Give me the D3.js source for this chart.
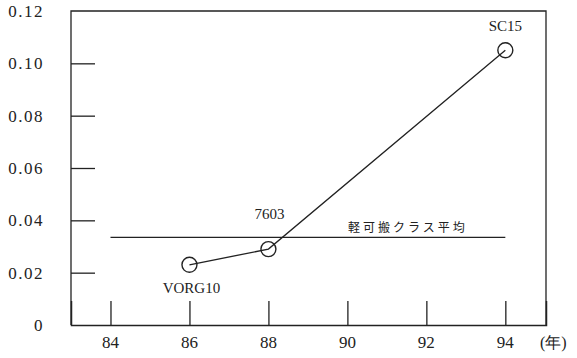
<!DOCTYPE html>
<html><head><meta charset="utf-8">
<script src="https://cdn.jsdelivr.net/npm/d3@7"></script>
<style>body{margin:0;background:#fff}</style>
</head><body>
<svg id="c" width="577" height="358"></svg>
<script>
const years = [86, 88, 94];
const values = [0.023, 0.029, 0.105];
const names = ["VORG10", "7603", "SC15"];
const avgValue = 0.0335;
const avgRange = [84, 94];
const avgLabel = "軽可搬クラス平均";
const xTicks = [84, 86, 88, 90, 92, 94];
const yTicks = [0, 0.02, 0.04, 0.06, 0.08, 0.10, 0.12];
const yTickLabels = ["0", "0.02", "0.04", "0.06", "0.08", "0.10", "0.12"];
const xUnit = "(年)";

const svg = d3.select("#c");
const L = 71, R = 546, T = 11, B = 325;
const x = d3.scaleLinear().domain([83, 95.03]).range([L, R]);
const y = d3.scaleLinear().domain([0, 0.12]).range([B, T]);
const ink = "#222";
const serif = "'Liberation Serif', 'DejaVu Serif', serif";

// frame
svg.append("path").attr("d", `M${L},${B}V${T}H${R}V${B}`)
  .attr("fill", "none").attr("stroke", ink).attr("stroke-width", 1.3);

// x axis
const xa = svg.append("g").attr("transform", `translate(0,${B})`)
  .call(d3.axisTop(x).tickValues(xTicks).tickSize(24).tickFormat(""));
xa.select(".domain").attr("stroke", ink).attr("stroke-width", 1.5);
xa.selectAll(".tick line").attr("stroke", ink).attr("stroke-width", 1.3);
svg.append("g").selectAll("text").data(xTicks).join("text")
  .attr("x", d => x(d)).attr("y", 348).attr("text-anchor", "middle")
  .attr("font-family", serif).attr("font-size", 17).attr("fill", ink)
  .text(d => d);
svg.append("text").attr("x", 540).attr("y", 348)
  .attr("font-family", serif).attr("font-size", 16).attr("fill", ink).text(xUnit);

// y axis
const ya = svg.append("g").attr("transform", `translate(${L},0)`)
  .call(d3.axisRight(y).tickValues(yTicks.filter(d => d > 0 && d < 0.12)).tickSize(24).tickFormat(""));
ya.select(".domain").remove();
ya.selectAll(".tick line").attr("stroke", ink).attr("stroke-width", 1.3);
svg.append("g").selectAll("text").data(yTicks).join("text")
  .attr("x", 44).attr("y", d => y(d) + 6).attr("text-anchor", "end")
  .attr("font-family", serif).attr("font-size", 17).attr("letter-spacing", 1.5).attr("fill", ink)
  .text((d, i) => yTickLabels[i]);

// average line
svg.append("line").attr("x1", x(avgRange[0])).attr("x2", x(avgRange[1]))
  .attr("y1", y(avgValue)).attr("y2", y(avgValue)).attr("stroke", ink).attr("stroke-width", 1.1);
svg.append("text").attr("x", 408).attr("y", y(avgValue) - 5).attr("text-anchor", "middle")
  .attr("font-family", "'Noto Sans CJK JP', sans-serif").attr("font-size", 12).attr("letter-spacing", 3)
  .attr("fill", ink).text(avgLabel);

// series
const pts = years.map((d, i) => ({yr: d, v: values[i], n: names[i]}));
svg.append("path").datum(pts)
  .attr("d", d3.line().x(d => x(d.yr)).y(d => y(d.v)))
  .attr("fill", "none").attr("stroke", ink).attr("stroke-width", 1.3);
svg.append("g").selectAll("circle").data(pts).join("circle")
  .attr("cx", d => x(d.yr)).attr("cy", d => y(d.v)).attr("r", 7.5)
  .attr("fill", "none").attr("stroke", ink).attr("stroke-width", 1.4);
const off = [[2, 28], [1, -30], [0, -19]];
svg.append("g").selectAll("text").data(pts).join("text")
  .attr("x", (d, i) => x(d.yr) + off[i][0]).attr("y", (d, i) => y(d.v) + off[i][1])
  .attr("text-anchor", "middle").attr("font-family", serif).attr("font-size", 15)
  .attr("fill", ink).text(d => d.n);
</script>
</body></html>
